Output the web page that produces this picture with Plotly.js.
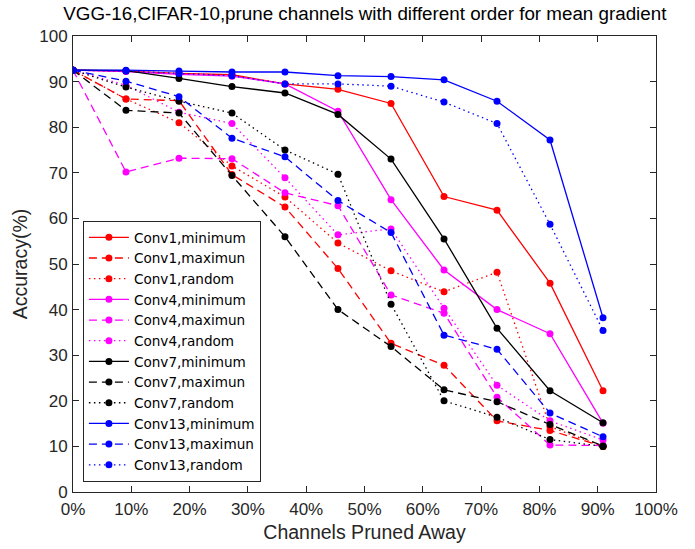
<!DOCTYPE html>
<html>
<head>
<meta charset="utf-8">
<script src="https://cdn.plot.ly/plotly-3.0.1.min.js"></script>
<style>html,body{margin:0;padding:0;background:#fff;}#chart{width:695px;height:549px;}</style>
</head>
<body>
<div id="chart"></div>
<script>
// x positions: fraction of channels pruned (k/11), in percent
const pruned = [0, 9.09, 18.18, 27.27, 36.36, 45.45, 54.55, 63.64, 72.73, 81.82, 90.91];

const conv1Min  = [92.5, 92.3, 91.8, 91.5, 89.5, 88.3, 85.2, 64.8, 61.8, 45.8, 22.2];
const conv1Max  = [92.5, 86.2, 85.8, 69.6, 62.5, 49.0, 32.6, 27.8, 15.6, 13.5, 10.0];
const conv1Rand = [92.5, 86.2, 81.0, 71.5, 64.7, 54.6, 48.5, 43.9, 48.2, 14.3, 10.0];

const conv4Min  = [92.5, 92.2, 91.6, 91.2, 89.5, 83.5, 64.1, 48.7, 40.0, 34.7, 15.1];
const conv4Max  = [92.5, 70.2, 73.2, 73.1, 65.6, 62.8, 43.2, 39.2, 20.8, 10.3, 10.2];
const conv4Rand = [92.5, 89.2, 83.3, 80.8, 68.9, 56.4, 57.7, 40.3, 23.4, 15.6, 11.4];

const conv7Min  = [92.5, 92.4, 90.7, 88.9, 87.5, 82.8, 73.0, 55.5, 35.9, 22.2, 15.2];
const conv7Max  = [92.5, 83.7, 83.1, 69.4, 56.0, 40.0, 31.9, 22.4, 19.8, 14.8, 10.1];
const conv7Rand = [92.5, 88.8, 85.7, 83.1, 75.0, 69.7, 41.2, 20.0, 16.4, 11.5, 10.0];

const conv13Min  = [92.5, 92.5, 92.3, 92.1, 92.1, 91.3, 91.1, 90.4, 85.7, 77.2, 38.2];
const conv13Max  = [92.5, 90.1, 86.7, 77.6, 73.5, 63.9, 56.9, 34.4, 31.3, 17.3, 12.1];
const conv13Rand = [92.5, 92.3, 91.8, 91.3, 89.5, 89.5, 89.0, 85.5, 80.8, 58.7, 35.4];

const seriesNames = [
  'Conv1,minimum','Conv1,maximun','Conv1,random',
  'Conv4,minimum','Conv4,maximun','Conv4,random',
  'Conv7,minimum','Conv7,maximun','Conv7,random',
  'Conv13,minimum','Conv13,maximun','Conv13,random'
];
const seriesData = [
  conv1Min, conv1Max, conv1Rand,
  conv4Min, conv4Max, conv4Rand,
  conv7Min, conv7Max, conv7Rand,
  conv13Min, conv13Max, conv13Rand
];
const colors = ['#ff0000','#ff00ff','#000000','#0000ff'];
const dashes = ['solid','8px,5px','1.5px,3.5px'];

const xTicks = [0,10,20,30,40,50,60,70,80,90,100];
const yTicks = [0,10,20,30,40,50,60,70,80,90,100];

const traces = seriesData.map((ys, i) => ({
  x: pruned,
  y: ys,
  name: seriesNames[i],
  type: 'scatter',
  mode: 'lines+markers',
  line: {color: colors[Math.floor(i/3)], width: 1.3, dash: dashes[i%3]},
  marker: {color: colors[Math.floor(i/3)], size: 7, symbol: 'circle'}
}));

const axisCommon = {
  showgrid: false,
  zeroline: false,
  showline: true,
  mirror: 'ticks',
  linecolor: '#262626',
  linewidth: 1,
  ticks: 'inside',
  ticklen: 6,
  tickcolor: '#262626',
  tickfont: {family: 'Liberation Sans, Arial, sans-serif', size: 17, color: '#262626'}
};

const layout = {
  width: 695,
  height: 549,
  margin: {l: 73, r: 39, t: 36, b: 57},
  paper_bgcolor: '#ffffff',
  plot_bgcolor: '#ffffff',
  font: {family: 'Liberation Sans, Arial, sans-serif', color: '#262626'},
  title: {
    text: 'VGG-16,CIFAR-10,prune channels with different order for mean gradient',
    font: {size: 18.8, color: '#000000'},
    x: 0.525, xanchor: 'center', y: 0.976, yanchor: 'middle'
  },
  xaxis: Object.assign({}, axisCommon, {
    range: [0, 100],
    tickvals: xTicks,
    ticktext: xTicks.map(v => v + '%'),
    ticklabelstandoff: 2,
    title: {text: 'Channels Pruned Away', font: {size: 19.5, color: '#262626'}, standoff: 6}
  }),
  yaxis: Object.assign({}, axisCommon, {
    range: [0, 100],
    tickvals: yTicks,
    ticklabelstandoff: 1,
    title: {text: 'Accuracy(%)', font: {size: 19.5, color: '#262626'}, standoff: 6}
  }),
  showlegend: true,
  legend: {
    x: 0.017, y: 0.022, xanchor: 'left', yanchor: 'bottom',
    bgcolor: '#ffffff',
    bordercolor: '#262626',
    borderwidth: 1,
    font: {family: 'DejaVu Sans, sans-serif', size: 13.6, color: '#000000'},
    itemwidth: 40,
    tracegroupgap: 0
  }
};

Plotly.newPlot('chart', traces, layout, {displayModeBar: false, staticPlot: true});
</script>
</body>
</html>
